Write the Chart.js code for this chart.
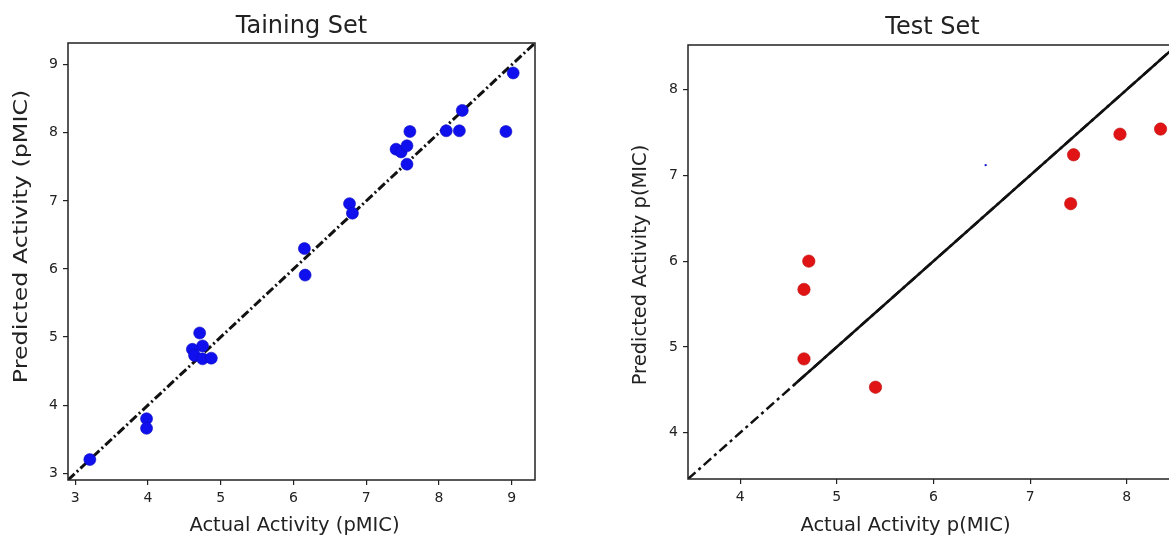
<!DOCTYPE html>
<html>
<head>
<meta charset="utf-8">
<script src="https://cdn.jsdelivr.net/npm/chart.js@4/dist/chart.umd.min.js"></script>
<style>
  html, body { margin: 0; padding: 0; background: #fff; overflow: hidden; }
  body { width: 1169px; height: 535px; position: relative; }
  .box { position: absolute; top: 0; height: 535px; }
  #trainBox { left: 0; width: 580px; }
  #testBox { left: 590px; width: 620px; }
</style>
</head>
<body>
<div class="box" id="trainBox"><canvas id="trainChart"></canvas></div>
<div class="box" id="testBox"><canvas id="testChart"></canvas></div>
<script>
// Training set: actual vs predicted
const trainActual    = [3.20, 3.98, 3.98, 4.71, 4.61, 4.75, 4.64, 4.75, 4.87, 6.15, 6.16, 6.77, 6.81, 7.41, 7.48, 7.56, 7.60, 7.56, 8.10, 8.28, 8.32, 8.92, 9.02];
const trainPredicted = [3.20, 3.80, 3.66, 5.06, 4.82, 4.87, 4.73, 4.68, 4.69, 6.30, 5.91, 6.96, 6.82, 7.76, 7.72, 7.81, 8.02, 7.54, 8.03, 8.03, 8.33, 8.02, 8.88];

// Test set
const testActual    = [4.71, 4.66, 4.66, 5.40, 7.45, 7.42, 7.93, 8.35];
const testPredicted = [6.00, 5.67, 4.86, 4.53, 7.24, 6.67, 7.48, 7.54];
const testStray     = [{ x: 6.54, y: 7.12 }];

// axis ranges and ticks
const trainRange = [2.9, 9.32];
const testRange  = [3.46, 8.52];
const testSolidFrom = 4.55;
const trainTicks = [3, 4, 5, 6, 7, 8, 9];
const testTicks  = [4, 5, 6, 7, 8];

const FONT = "'DejaVu Sans', sans-serif";
const INK = '#222';

const toPoints = (xs, ys) => xs.map((x, i) => ({ x: x, y: ys[i] }));

// frame round the plot area, like matplotlib's spines
const framePlugin = {
    id: 'frame',
    afterDraw(chart) {
        const a = chart.chartArea;
        const ctx = chart.ctx;
        ctx.save();
        ctx.strokeStyle = INK;
        ctx.lineWidth = 1.5;
        ctx.strokeRect(a.left, a.top, a.right - a.left, a.bottom - a.top);
        ctx.restore();
    }
};

// plot title and axis titles, placed as in the source figure
const labelPlugin = {
    id: 'labels',
    afterDraw(chart, args, o) {
        const a = chart.chartArea;
        const cx = (a.left + a.right) / 2;
        const ctx = chart.ctx;
        ctx.save();
        ctx.fillStyle = INK;
        ctx.textAlign = 'center';
        ctx.textBaseline = 'alphabetic';
        ctx.font = o.titleSize + 'px ' + FONT;
        ctx.fillText(o.title, cx, o.titleBase);
        ctx.font = o.size + 'px ' + FONT;
        ctx.fillText(o.x, cx + o.xShift, o.xBase);
        ctx.translate(o.yBase, (a.top + a.bottom) / 2 + o.yShift);
        ctx.rotate(-Math.PI / 2);
        ctx.scale(o.yStretch, 1);
        ctx.fillText(o.y, 0, 0);
        ctx.restore();
    }
};

function axis(range, ticks, fitSize, horizontal) {
    return {
        type: 'linear',
        min: range[0],
        max: range[1],
        afterBuildTicks: s => { s.ticks = ticks.map(v => ({ value: v })); },
        afterFit: s => { if (horizontal) s.height = fitSize; else s.width = fitSize; },
        border: { display: false },
        grid: { display: true, drawOnChartArea: false, drawTicks: true, tickLength: 5, color: INK, lineWidth: 1.2 },
        ticks: { color: INK, font: { family: FONT, size: 14 }, padding: 5, maxRotation: 0 },
        title: { display: false }
    };
}

function makeChart(id, cfg) {
    new Chart(document.getElementById(id), {
        type: 'scatter',
        data: { datasets: cfg.datasets },
        options: {
            responsive: true,
            maintainAspectRatio: false,
            animation: false,
            layout: { padding: { left: 0, right: cfg.padRight, top: cfg.padTop, bottom: 0 } },
            plugins: {
                legend: { display: false },
                tooltip: { enabled: false },
                title: { display: false },
                labels: cfg.labels
            },
            scales: {
                x: axis(cfg.range, cfg.ticks, cfg.xFit, true),
                y: axis(cfg.range, cfg.ticks, cfg.yFit, false)
            }
        },
        plugins: [framePlugin, labelPlugin]
    });
}

document.addEventListener("DOMContentLoaded", () => {
    // Chart 1 - Training set
    makeChart('trainChart', {
        range: trainRange,
        ticks: trainTicks,
        labels: {
            title: 'Taining Set', titleSize: 24, titleBase: 33,
            x: 'Actual Activity (pMIC)', y: 'Predicted Activity (pMIC)', size: 19.5,
            xShift: -7, xBase: 531, yShift: -25, yBase: 27, yStretch: 1.22
        },
        xFit: 55, yFit: 68, padRight: 45, padTop: 43,
        datasets: [
            {
                type: 'line',
                data: [{ x: trainRange[0], y: trainRange[0] }, { x: trainRange[1], y: trainRange[1] }],
                borderColor: '#111', borderWidth: 3, borderDash: [9, 3, 2, 3],
                pointRadius: 0, fill: false, order: 1
            },
            {
                data: toPoints(trainActual, trainPredicted),
                backgroundColor: '#1010ee', borderColor: '#0c0cc0', borderWidth: 0.6,
                pointRadius: 6, order: 0
            }
        ]
    });

    // Chart 2 - Test set
    makeChart('testChart', {
        range: testRange,
        ticks: testTicks,
        labels: {
            title: 'Test Set', titleSize: 24, titleBase: 34,
            x: 'Actual Activity p(MIC)', y: 'Predicted Activity p(MIC)', size: 19.5,
            xShift: -27, xBase: 531, yShift: 3, yBase: 56, yStretch: 1
        },
        xFit: 56, yFit: 98, padRight: 33, padTop: 45,
        datasets: [
            {
                type: 'line',
                data: [{ x: testRange[0], y: testRange[0] }, { x: testRange[1], y: testRange[1] }],
                borderColor: '#111', borderWidth: 2.5, borderDash: [10, 4, 3, 4],
                pointRadius: 0, fill: false, order: 2
            },
            {
                type: 'line',
                data: [{ x: testSolidFrom, y: testSolidFrom }, { x: testRange[1], y: testRange[1] }],
                borderColor: '#111', borderWidth: 2.5,
                pointRadius: 0, fill: false, order: 1
            },
            {
                data: toPoints(testActual, testPredicted),
                backgroundColor: '#e01414', borderColor: '#c01010', borderWidth: 0.6,
                pointRadius: 6.2, order: 0
            },
            {
                data: testStray,
                backgroundColor: '#2222cc', borderWidth: 0,
                pointRadius: 1.2, order: 0
            }
        ]
    });
});
</script>
</body>
</html>
